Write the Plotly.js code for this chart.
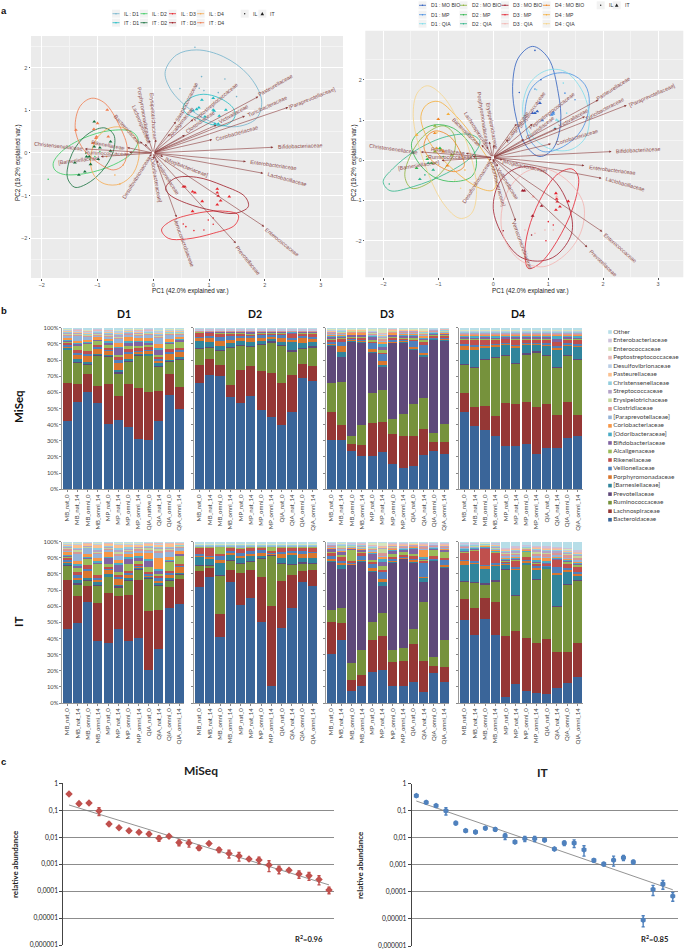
<!DOCTYPE html>
<html>
<head>
<meta charset="utf-8">
<script src="https://cdn.plot.ly/plotly-3.0.1.min.js"></script>
<style>
  html, body { margin: 0; padding: 0; background: #fff; }
  #chart { width: 685px; height: 951px; }
</style>
</head>
<body>
<div id="chart"></div>
<script>
/* ==========================================================================
   Figure with three panels:
     a) two PCA biplots, b) eight stacked bar panels, c) two rank abundance plots
   Values were read off the picture.
   ========================================================================== */

/* ---- a) biplots: ellipse outlines, read as [PC1, PC2] ---- */
const ellLeftIlD1 = [[.215,1.906],[.418,2.297],[.777,2.414],[1.254,2.258],[1.703,1.828],[1.941,1.242],[1.852,.813],[1.493,.617],[1.075,.711],[.597,1.086],[.299,1.516]];
const ellLeftItD1 = [[.538,1.086],[.657,1.281],[.896,1.375],[1.195,1.281],[1.434,1.047],[1.464,.852],[1.314,.656],[1.075,.656],[.777,.813],[.585,.93]];
const ellLeftIlD2 = [[-1.792,-.242],[-1.643,.031],[-1.254,.344],[-.777,.523],[-.388,.5],[-.269,.305],[-.388,-.008],[-.717,-.281],[-1.195,-.477],[-1.613,-.5],[-1.762,-.398]];
const ellLeftItD2 = [[-1.541,-.398],[-1.404,.109],[-1.135,.477],[-.866,.586],[-.705,.422],[-.717,.031],[-.926,-.438],[-1.195,-.727],[-1.404,-.805],[-1.523,-.633]];
const ellLeftIlD3 = [[.149,-1.805],[.299,-1.609],[.717,-1.43],[1.195,-1.359],[1.523,-1.453],[1.464,-1.688],[1.075,-1.883],[.597,-2.016],[.269,-2]];
const ellLeftItD3 = [[.221,-.828],[.388,-.594],[.777,-.57],[1.254,-.766],[1.643,-1.023],[1.703,-1.258],[1.464,-1.414],[1.075,-1.352],[.597,-1.18],[.299,-.984]];
const ellLeftIlD4 = [[-1.123,-.242],[-1.045,.266],[-.836,.555],[-.568,.602],[-.329,.383],[-.251,-.008],[-.358,-.477],[-.597,-.727],[-.866,-.727],[-1.045,-.555]];
const ellLeftItD4 = [[-1.398,.578],[-1.314,1.086],[-1.105,1.281],[-.866,1.164],[-.597,.617],[-.466,.109],[-.538,-.281],[-.717,-.398],[-1.016,-.203],[-1.284,.148]];

const ellRightD1Mo = [[.352,1.834],[.455,2.539],[.716,2.83],[1.002,2.539],[1.184,1.668],[1.226,.921],[1.093,.299],[.85,.091],[.607,.34],[.425,1.004]];
const ellRightD1Mp = [[.577,1.17],[.698,1.793],[1.032,2.124],[1.396,2.149],[1.67,1.876],[1.749,1.419],[1.609,.755],[1.275,.34],[.911,.216],[.668,.506]];
const ellRightD1Qia = [[.534,1.253],[.668,1.917],[.971,2.232],[1.305,2.207],[1.609,1.751],[1.749,1.087],[1.67,.548],[1.396,.257],[1.002,.299],[.668,.672]];
const ellRightD2Mo = [[-1.609,-.407],[-1.518,.091],[-1.245,.631],[-.911,.855],[-.729,.672],[-.698,.257],[-.88,-.199],[-1.184,-.573],[-1.488,-.697]];
const ellRightD2Mp = [[-1.488,.423],[-1.336,.714],[-1.063,.88],[-.729,.797],[-.395,.34],[-.304,-.075],[-.395,-.407],[-.729,-.531],[-1.093,-.407],[-1.396,.008]];
const ellRightD2Qia = [[-2.004,-.531],[-1.821,-.199],[-1.396,.257],[-.85,.589],[-.395,.631],[-.243,.465],[-.395,.091],[-.85,-.324],[-1.457,-.656],[-1.882,-.755]];
const ellRightD3Mo = [[0,-1.195],[.121,-.531],[.425,-.199],[.789,-.199],[1.154,-.573],[1.396,-1.237],[1.427,-1.817],[1.154,-2.357],[.85,-2.506],[.486,-2.398],[.182,-1.9]];
const ellRightD3Mp = [[.577,-2.315],[.638,-1.734],[.85,-.988],[1.154,-.365],[1.427,-.216],[1.548,-.407],[1.457,-1.154],[1.154,-2.025],[.85,-2.564],[.638,-2.689]];
const ellRightD3Qia = [[.14,-1.485],[.243,-.822],[.546,-.324],[.911,-.199],[1.336,-.49],[1.639,-1.071],[1.609,-1.734],[1.336,-2.315],[.911,-2.647],[.486,-2.481],[.213,-1.983]];
const ellRightD4Mo = [[-1.263,.34],[-1.184,.631],[-1.032,.73],[-.789,.589],[-.577,.133],[-.534,-.158],[-.698,-.282],[-.971,-.158],[-1.184,.091]];
const ellRightD4Mp = [[-1.318,1.087],[-1.214,1.378],[-1.002,1.461],[-.668,1.087],[-.243,.34],[.061,-.407],[0,-.739],[-.243,-.697],[-.789,-.158],[-1.184,.506]];
const ellRightD4Qia = [[-1.457,1.087],[-1.384,1.668],[-1.202,1.851],[-.911,1.585],[-.546,.672],[-.304,-.656],[-.395,-1.32],[-.607,-1.444],[-.911,-1.071],[-1.275,.008]];

/* ---- a) biplots: sample points ---- */
const ptLeftItD1 = [[.717,.992],[.777,1.023],[.818,1.063],[.872,1.242],[1.075,1.008],[1.093,.984],[.926,.852],[1.105,.68],[1.165,.68],[1.302,1.008],[1.183,.867],[1.075,1.281]];
const ptLeftIlD1 = [[.747,2.477],[.866,1.789],[.478,1.508],[.777,1.57],[1.284,1.734],[1.165,1.414],[1.493,1.32],[.908,1.461],[.824,1.516]];
const ptLeftItD2 = [[-1.057,.734],[-1.057,.148],[-.956,.125],[-.765,.266],[-.765,.047],[-1.404,-.227],[-1.332,-.516],[-1.225,-.438],[-1.123,-.266],[-.986,-.148],[-1.195,-.086],[-1.147,-.086]];
const ptLeftIlD2 = [[-1.882,-.617],[-1.207,-.008],[-1.135,-.148],[-1.045,-.086],[-.956,.031]];
const ptLeftItD3 = [[.538,-.789],[.567,-.789],[.705,-.906],[.747,-.93],[.878,-1.133],[.705,-1.367],[1.147,-.844],[1.147,-.93],[1.165,-1.008],[1.207,-1.117],[1.147,-1.211],[1.362,-1.023]];
const ptLeftIlD3 = [[.538,-1.664],[.585,-1.727],[.729,-1.82],[.986,-1.57],[1.075,-1.523],[1.075,-1.672],[.908,-1.805]];
const ptLeftItD4 = [[-1.386,.539],[-1.063,.555],[-.998,.695],[-.824,1.008],[-1.016,.383],[-.806,.383],[-1.075,.227],[-1.027,.344]];
const ptLeftIlD4 = [[-.687,-.516],[-.597,-.727],[-.538,-.281],[-.836,-.086]];

const ptRightD1MoIt = [[.716,1.17],[.759,1.17],[.801,1.212],[.85,1.419]];
const ptRightD1MoIl = [[.868,2],[.759,2.73],[.474,1.685]];
const ptRightD1MpIt = [[.893,.988],[1.063,1.129],[1.093,1.154],[1.093,1.187]];
const ptRightD1MpIl = [[.759,1.768],[1.488,1.502],[1.305,1.668]];
const ptRightD1QiaIt = [[1.154,1.004],[1.123,.797],[1.184,.963]];
const ptRightD1QiaIl = [[1.336,1.17],[1.275,1.917],[.789,1.751]];
const ptRightD2MoIt = [[-1.063,.855],[-1.063,.216],[-.759,.133]];
const ptRightD2MoIl = [[-1.214,.091],[-1.063,-.075]];
const ptRightD2MpIt = [[-.971,.299],[-1.202,.025],[-1.123,-.075],[-1.396,-.199]];
const ptRightD2MpIl = [[-.911,.091]];
const ptRightD2QiaIt = [[-1.336,-.473],[-1.469,.191],[-1.093,-.241],[-1.184,-.075]];
const ptRightD2QiaIl = [[-1.894,-.589],[-1.245,-.365]];
const ptRightD3MoIt = [[.534,-.755],[.565,-.755],[.716,-1.386],[.88,-1.137]];
const ptRightD3MoIl = [[.182,-1.751],[.698,-1.859]];
const ptRightD3MpIt = [[1.141,-.822],[1.154,-.963],[1.166,-1.029],[1.366,-1.021],[1.141,-1.237],[1.214,-1.154]];
const ptRightD3MpIl = [[1.002,-1.527],[1.093,-1.61],[.959,-2]];
const ptRightD3QiaIt = [[1.154,-.905],[.729,-.905]];
const ptRightD3QiaIl = [[.577,-1.734],[.759,-1.817],[1.093,-1.734],[.941,-1.734]];
const ptRightD4MoIt = [[-1.002,1.021],[-1.063,.672],[-.911,.216],[-.838,-.133]];
const ptRightD4MoIl = [];
const ptRightD4MpIt = [[-.82,1.145],[-1.396,.631],[-1.032,.299],[-.941,.257]];
const ptRightD4MpIl = [[-.516,-.241]];
const ptRightD4QiaIt = [[-1.032,.689]];
const ptRightD4QiaIl = [[-.595,-.697],[-.698,-.49]];

/* ---- a) biplots: loadings ---- */
const loadingNames = ["Pasteurellaceae","[Paraprevotellaceae]","Turicibacteraceae","Coriobacteriaceae","Bifidobacteriaceae","Enterobacteriaceae","Lactobacillaceae","Enterococcaceae","Prevotellaceae","Verrucomicrobiaceae","[Mogibacteriaceae]","Veillonellaceae","[Odoribacteraceae]","Desulfovibrionaceae","Christensenellaceae","[Barnesiellaceae]","Ruminococcaceae","Rikenellaceae","Bacteroidaceae","Lachnospiraceae","Porphyromonadaceae","Erysipelotrichaceae","Streptococcaceae","Alcaligenaceae","Clostridiaceae","Peptostreptococcaceae","Victivallaceae"];
const tipsLeft = [[1.882,1.32],[2.419,1.07],[1.643,.867],[1.057,.313],[2.151,.133],[1.661,-.203],[1.971,-.477],[1.989,-1.727],[1.481,-2.117],[.418,-1.508],[.179,-.086],[.09,-.242],[.012,-.148],[-.072,-.086],[-1.225,.094],[-.938,-.086],[-.43,.008],[-.466,.125],[-.239,.266],[-.149,.211],[-.078,.305],[.048,.32],[.406,.734],[.299,.445],[.567,.422],[.717,.789],[1.135,.656]];
const labelsLeft = [[2.192,1.586],[2.843,1.297],[2.049,1.094],[1.505,.461],[2.628,.164],[2.163,-.289],[2.389,-.609],[2.306,-2.094],[1.691,-2.516],[.55,-2.117],[.597,-.32],[.269,-.617],[.054,-.633],[-.293,-.57],[-1.703,.164],[-1.332,-.164],[-.836,-.008],[-.818,.18],[-.466,.563],[-.215,.672],[-.173,.93],[.012,.852],[.597,1.195],[.502,.727],[.836,.727],[1.111,1.203],[1.434,.914]];
const anglesLeft = [-30,-22,-25,-16,-2,8,15,39,51,70,21,57,80,-58,6,-7,2,10,48,67,80,86,-63,-52,-36,-40,-30];
const tipsRight = [[1.913,1.502],[2.429,1.369],[1.67,1.087],[1.05,.407],[2.155,.216],[1.658,-.133],[1.973,-.448],[1.985,-1.776],[1.712,-2.166],[.407,-1.51],[.17,.008],[.085,-.158],[.012,-.058],[-.079,-.008],[-1.318,.207],[-.941,-.008],[-.376,.091],[-.498,.174],[-.213,.382],[-.121,.34],[-.073,.465],[.012,.382],[.425,.905],[.273,.523],[.559,.523],[.716,.905],[1.154,.797]];
const labelsRight = [[2.198,1.784],[2.89,1.627],[2.022,1.286],[1.524,.581],[2.641,.249],[2.174,-.232],[2.398,-.598],[2.313,-2.191],[1.998,-2.564],[.528,-2.108],[.583,-.141],[.273,-.581],[.085,-.589],[-.304,-.539],[-1.815,.282],[-1.348,-.116],[-.783,.091],[-.82,.241],[-.486,.714],[-.298,.755],[-.182,1.054],[-.024,.846],[.698,1.253],[.425,.838],[.85,.797],[1.063,1.212],[1.457,1.046]];
const anglesRight = [-33,-24,-28,-17,-3,7,16,41,44,70,13,58,75,-58,8,-9,0,7,45,57,81,80,-55,-55,-38,-38,-30];
const originRight = [-.012,.066];

const legendLeftNames = ["IL : D1","IL : D2","IL : D3","IL : D4","IT : D1","IT : D2","IT : D3","IT : D4"];
const legendRightNames = ["D1 : MO BIO","D2 : MO BIO","D3 : MO BIO","D4 : MO BIO","D1 : MP","D2 : MP","D3 : MP","D4 : MP","D1 : QIA","D2 : QIA","D3 : QIA","D4 : QIA"];

/* ---- b) stacked bars, rows follow familyNames (bottom of the stack first) ---- */
const familyNames = ["Bacteroidaceae","Lachnospiraceae","Ruminococcaceae","Prevotellaceae","[Barnesiellaceae]","Porphyromonadaceae","Veillonellaceae","Rikenellaceae","Alcaligenaceae","Bifidobacteriaceae","[Odoribacteraceae]","Coriobacteriaceae","[Paraprevotellaceae]","Clostridiaceae","Erysipelotrichaceae","Streptococcaceae","Christensenellaceae","Pasteurellaceae","Desulfovibrionaceae","Peptostreptococcaceae","Enterococcaceae","Enterobacteriaceae","Other"];
const sampleLabels = ["MB_nat_0","MB_nat_14","MB_omni_0","MB_omni_14","MP_nat_0","MP_nat_14","MP_omni_0","MP_omni_14","QIA_nat_0","QIA_nat_14","QIA_omni_0","QIA_omni_14"];
const sampleLabelsD1 = ["MB_nat_0","MB_nat_14","MB_omni_0","MB_omni_14","MP_nat_0","MP_nat_14","MP_omni_0","MP_omni_14","QIA_native_0","QIA_nat_14","QIA_omni_0","QIA_omni_14"];
const percentTicks = [0,10,20,30,40,50,60,70,80,90,100];
const percentTickText = ["0%","10%","20%","30%","40%","50%","60%","70%","80%","90%","100%"];

const miseqD1 = [
  [42,54,61,54,41,43,39,31,31,42,58,50],
  [23.5,11,11,11,25,15,27,32,30,19,13,14],
  [20.5,14,6,19,17,14,14,20,23,15,8,17],
  [.5,.5,.4,.4,.5,1,.5,.5,.5,.8,.5,.8],
  [1,1,.8,.6,.6,1,.8,.8,.6,1,.5,.8],
  [.5,3,4.5,3.5,2.5,4.5,3,1,2,1.5,4,3.5],
  [.8,1,.8,.8,.6,2,1.5,1,1,1.5,.8,.8],
  [1.8,2,2,1.2,1.5,1.5,1.5,1,1,1.5,2,1.5],
  [.5,2.8,4.5,2.8,1.2,1.5,2,1.5,1.5,1,3.5,3.5],
  [.8,1.2,.5,.5,2,4.5,2.8,2.8,2,3.5,.5,1.8],
  [.7,.5,.7,.5,.5,.6,.6,.5,.6,.8,.6,.5],
  [1,.8,.8,1,1.5,2.5,2.5,1.5,2,2.5,1.2,1],
  [1,3.5,2.5,1.5,2,2.5,1.5,2,2.2,4,3,1.5],
  [.6,.6,.5,.5,.6,.6,.5,.5,.5,.6,.6,.6],
  [1,.6,.5,.5,.5,.6,.5,.5,.5,.6,.5,.5],
  [.5,.6,.5,.5,.5,1.5,.5,.5,.5,.6,.5,.5],
  [.4,.4,.4,.4,.4,.4,.3,.4,.3,.4,.3,.3],
  [.6,.4,.8,.6,.6,1,.6,.6,.4,.8,.5,.5],
  [.6,.8,.6,.6,.8,.8,.6,.6,.5,1,.5,.6],
  [.3,.4,.6,.3,.4,.4,.3,.5,.3,.4,.3,.3],
  [.3,.3,.2,.3,.3,.4,.3,.3,.3,.3,.3,.3],
  [.2,.3,.2,.2,.2,.3,.3,.2,.2,.3,.2,.2],
  [.4,.5,1,.5,.7,.7,.3,.4,.6,.8,.4,.3]
];
const miseqD2 = [
  [66,71,70,57.5,54,58.5,49,45,39.5,48,69,67.5],
  [11.5,10,7,7.5,20,19,24.5,27,26.5,23,8.5,9],
  [10,7,9,23,15.5,12,16.5,19.5,23,15,9.5,12],
  [.3,.3,.3,.3,.3,.3,.3,.3,.3,.3,.3,.3],
  [4.5,2.8,2.2,2.5,2.5,2.7,1.8,1.5,2,5,3,2.8],
  [2.2,3,3.5,2,2.5,2.5,1.5,1.5,2.5,1.5,3.2,2],
  [.3,.8,2.5,2.5,.8,1.5,2.5,1.3,1.5,1.5,1.3,1.2],
  [2.8,2.5,1.5,1.8,1.5,1,1,1,1.5,2.5,1.8,2.3],
  [.5,.3,1.5,.4,.5,.4,.4,.4,.4,.3,.8,.5],
  [.2,.3,.3,.5,.8,1.2,.6,.6,.4,.5,.3,.6],
  [.1,.1,.1,.2,.1,.2,.1,.1,.2,.5,.1,.1],
  [.1,.1,.1,.2,.1,.1,.1,.1,.2,.2,.1,.1],
  [.1,.1,.1,.1,.1,.1,.1,.1,.1,.2,.1,.1],
  [.1,.1,.1,.1,.1,.1,.1,.1,.1,.1,.1,.1],
  [.2,.2,.2,.2,.2,.2,.2,.2,.2,.2,.2,.2],
  [.1,.1,.1,.1,.1,.1,.1,.1,.1,.1,.1,.1],
  [.1,.1,.1,.1,.1,.1,.1,.1,.1,.1,.1,.1],
  [.1,.1,.1,.1,.1,.1,.1,.1,.1,.1,.1,.1],
  [.1,.1,.1,.1,.1,.1,.1,.1,.1,.1,.1,.1],
  [.1,.1,.1,.1,.1,.1,.1,.1,.1,.1,.1,.1],
  [.3,.3,.3,.3,.3,.3,.3,.3,.3,.3,.3,.3],
  [.2,.2,.2,.2,.2,.2,.2,.2,.2,.2,.2,.2],
  [.6,.6,.6,.6,.6,.6,.6,.6,.6,.6,.6,.6]
];
const miseqD3 = [
  [30.5,31,23.7,20.6,21,23.7,16,13,14.4,21,23.7,21.6],
  [17.5,8.8,4.3,6.8,20.4,19,18,20,18.6,16.3,5.6,7.7],
  [18,26.8,5.4,12.4,19.2,20.8,9.3,13.6,19.6,19,5.7,11.3],
  [22.9,15.9,58.6,51.5,25.2,14.5,47.7,44.7,33.8,26.4,57.6,51.8],
  [1,3,.5,.5,1,1.5,.5,.5,1,1,.5,.4],
  [.5,3.5,.6,.6,1.2,2,.6,.5,.8,.8,.6,.5],
  [1,2.5,.6,.8,3.5,5,1,.8,3.8,5,.6,.8],
  [1.5,2.5,1,1,1.5,1,1,.8,1,2,1,1],
  [.8,.8,.8,.8,.8,1,.8,.8,.8,.8,.6,.6],
  [1,.8,.8,.8,2,3,1,1,1.5,1.5,.8,.8],
  [.6,.5,.4,.4,.5,1.2,.4,.4,.5,.6,.3,.3],
  [.6,.5,.8,.8,.5,1.5,.8,.8,.6,.8,.4,.4],
  [.6,.6,.3,.4,.7,1,.6,.6,.8,1,.3,.3],
  [.5,.5,.4,.4,.5,1,.4,.4,.5,.6,.4,.4],
  [.5,.5,.5,.5,.5,1,.4,.4,.4,.5,.5,.5],
  [.3,.3,.2,.2,.3,.5,.2,.2,.2,.3,.2,.2],
  [.3,.3,.2,.2,.2,.3,.2,.2,.2,.3,.2,.2],
  [.4,.4,.2,.2,.3,1,.3,.5,.3,.4,.2,.2],
  [.3,.3,.2,.2,.3,.5,.2,.2,.2,.3,.2,.2],
  [.2,.2,.1,.1,.2,.4,.2,.2,.2,.2,.1,.1],
  [.5,.4,.4,.3,1,2.5,.2,.2,.4,.8,.1,.2],
  [.2,.2,.2,.2,.2,.3,.2,.2,.2,.2,.1,.1],
  [.3,.3,.3,.4,.3,.3,.2,.3,.2,.3,.2,.3]
];
const miseqD4 = [
  [48,39,36.3,33.4,27.2,26.8,28.2,21.6,25.8,25.8,32,33.4],
  [11.8,12,15,12.6,26.8,25.8,25.6,29.4,27.6,20.2,22.6,13],
  [18.2,24.7,28.5,36.5,30,24.9,29.7,34,30.1,29.3,28.9,34.6],
  [.3,.3,.3,.3,.3,.3,.3,.3,.3,.3,.3,.3],
  [8.7,10.5,7.4,6.8,6.4,9.7,5.4,4.3,6.2,11,6.2,7.6],
  [2.8,2,1,.8,.6,1.2,.6,.5,.6,1,.5,.8],
  [.6,.8,.6,.6,.6,.6,.6,.6,.6,.8,.5,.5],
  [3.5,3.5,3.3,2.8,2.5,3.5,2.3,2.3,2.8,3,2.8,3.2],
  [.4,.6,.4,.4,.4,.4,.4,.4,.4,.4,.4,.4],
  [.6,.6,.8,.6,.5,.6,.6,.6,.6,1.2,.6,.6],
  [1.5,1.8,1.5,1.8,1.5,1.5,1.5,1.5,1.5,2.5,1.5,1.8],
  [.3,.3,.3,.3,.3,.3,.3,.3,.3,.3,.3,.3],
  [.3,.3,.3,.3,.3,.3,.3,.3,.3,.3,.3,.3],
  [.3,.3,.3,.3,.3,.3,.3,.3,.3,.3,.3,.3],
  [.3,.3,.3,.3,.3,.3,.3,.3,.3,.3,.3,.3],
  [.2,.2,.2,.2,.2,.2,.2,.2,.2,.2,.2,.2],
  [.8,.8,.8,.8,.8,.8,.8,.8,.8,.8,.8,.8],
  [.2,.2,.2,.2,.2,.2,.2,.2,.2,.2,.2,.2],
  [.3,.3,.3,.3,.3,.3,.3,.3,.3,.3,.3,.3],
  [.2,.2,.2,.2,.2,.2,.2,.2,.2,.2,.2,.2],
  [.3,.3,.3,.3,.3,.3,.3,.3,.3,.3,.3,.3],
  [.2,.2,.2,.2,.2,.2,.2,.2,.2,.2,.2,.2],
  [1,1,1,1,1,1,1,1,1,1,1,1]
];
const itD1 = [
  [46.3,49.4,62.8,39,37.4,45.5,38.2,40.3,20.2,33.3,59,61.4],
  [30.6,17.1,10.2,23.6,30.8,20.8,28.8,35.7,37,24.1,13,16.1],
  [9.1,7.5,3.4,10.9,10.1,5.4,9.4,6.9,20.3,15.1,4.4,2.9],
  [.4,.6,.4,.8,.6,.8,.5,.4,.5,.6,.4,.4],
  [1.2,1.5,.8,1,.8,.6,.8,.6,.6,.8,.5,.4],
  [.6,2,5,1.5,2.5,4,2.5,.8,.8,1.5,2.8,3.8],
  [.8,1.2,.8,2,1.5,1.2,1,.6,.8,1.5,.8,.8],
  [2,2.2,2.2,1.2,1.2,1,.8,1,1.2,1.8,1.2,1],
  [.5,3,4.5,7,1.2,1.8,4.5,1.5,3.2,1,6,5.5],
  [.8,1,.8,.8,4,4.6,3.6,2.8,4.2,2.2,.8,.8],
  [.6,.5,.6,.6,.6,.8,.6,.6,.6,.6,.5,.4],
  [1,2.2,1.2,2,3,1.8,1.6,1.5,3.8,7,1,1],
  [1.6,5,4,3,1.5,3,1.8,2.2,1.5,3.5,4,2.5],
  [.8,1.2,.4,.8,.7,1,.8,.8,.8,1.2,.8,.5],
  [.8,.8,.5,.8,.8,1.2,.8,.8,1.2,1,.8,.6],
  [.6,.6,.4,1.2,.8,1.5,.6,.6,.8,.8,.5,.4],
  [.4,.4,.3,.4,.4,.5,.4,.4,.3,.4,.3,.3],
  [.8,2.4,.8,2.8,1,2.5,2,1.2,1,1.8,2.2,.6],
  [.4,.4,.3,.3,.3,.5,.3,.3,.3,.5,.3,.3],
  [.3,.3,.3,.3,.2,.3,.3,.3,.3,.2,.2,.2],
  [.3,.3,.2,.2,.2,.3,.3,.2,.2,.2,.2,.2],
  [.2,.2,.2,.2,.2,.2,.2,.2,.2,.2,.2,.2],
  [.4,.3,.2,.3,.2,.3,.3,.3,.2,.2,.2,.2]
];
const itD2 = [
  [71.9,78.7,41.7,74.6,59.3,63.2,49.6,10.3,45.2,57.4,75.6,72.5],
  [10.1,6.3,14.1,7.6,19.4,17.4,27.3,49.8,28.8,20.3,7,9.7],
  [3.5,1,24.2,6.2,6,5.1,11.5,31.2,10.7,6.3,5,4.4],
  [.3,.2,.3,.3,.3,.3,.3,.3,.3,.3,.3,.3],
  [5,4.5,7.5,3.2,3,3,2,.4,3,5.5,3,3.2],
  [1,1,1.8,1.2,1.5,1.5,1,.3,2.5,1.5,3,3],
  [.4,.4,2.5,.8,1.2,1.2,2.2,1,1,1,.8,.5],
  [4.5,5.5,1.6,2.5,3.2,2.5,1.5,.8,2.8,2.3,2.8,3],
  [.3,.3,4.5,.3,.3,.3,.3,2.5,.3,.3,.3,.3],
  [.2,.2,.2,.2,.2,.2,.2,.2,.2,.2,.2,.2],
  [.1,.1,.1,.1,.1,.1,.1,.1,.1,.1,.1,.1],
  [.1,.1,.1,.1,.1,.1,.1,.1,.1,.1,.1,.1],
  [.2,.2,.2,.2,.8,.2,.2,.2,.2,.2,.2,.2],
  [.1,.1,.1,.1,.1,.1,.1,.1,.1,.1,.1,.1],
  [.3,.3,.3,.3,.3,.3,.3,.3,.3,.3,.3,.3],
  [.1,.1,.1,.1,.1,.1,.1,.1,.1,.1,.1,.1],
  [.2,.2,.2,.2,.2,.2,.2,.2,.2,.2,.2,.2],
  [.1,.1,.1,.1,.1,.1,.1,.1,.1,.1,.1,.1],
  [.2,.2,.2,.2,.2,.2,.2,.2,.2,.2,.2,.2],
  [.1,.1,.1,.1,.1,.1,.1,.1,.1,.1,.1,.1],
  [.3,.3,.3,.3,.3,.3,.3,.3,.3,.3,.3,.3],
  [.2,.2,.2,.2,.2,.2,.2,.2,.2,.2,.2,.2],
  [.8,.8,.8,.8,.8,.8,.8,.8,.8,.8,.8,.8]
];
const itD3 = [
  [30.8,39.3,7.4,10.3,19.4,20.9,10.3,10.3,13.2,6.6,18.4,13],
  [19.6,10.3,6.9,7.1,20.1,21.2,14.9,15.3,23.4,19.8,4.1,9.1],
  [7.9,9.3,10.5,15.6,10.9,14.3,7.7,8.5,9.3,36.4,6,16.9],
  [30.3,24.1,60.7,54.8,31,17.4,54.7,54.9,40.9,12.8,59.7,44.5],
  [.8,3,.4,.8,1.5,3,.5,.4,.8,2.5,.3,1.5],
  [.4,1,.5,.5,1,1.2,.4,.4,.5,.6,.3,.5],
  [2.2,1.5,.6,3,3,4.5,1.2,.8,1.5,9,.7,3.5],
  [2,3,.8,.8,1.5,1.5,.8,.6,1,1,1,.8],
  [.5,.6,7,1.6,.8,2,2,1.5,1.5,.5,3.5,4.5],
  [2,2,.6,.8,4,3.5,2.5,2,3.5,1,1.4,1],
  [.3,.4,.3,.3,.5,1,.3,.3,.5,.5,.3,.3],
  [.4,.6,.4,.4,1,1.8,.5,.5,.5,5,.5,.6],
  [.8,1.2,.6,.5,1,1,.5,.5,.4,.8,.5,.5],
  [.4,.5,.3,.3,.6,1,.5,.4,.4,1,.3,.4],
  [.3,1,.3,.3,.6,3,.4,.3,.3,.4,.3,.3],
  [.3,.3,.3,1,.4,.6,.6,.4,.3,.3,.3,.3],
  [.3,.3,.3,.3,.4,.4,.3,.3,.3,.3,.3,.3],
  [.2,.3,.3,.2,.3,.3,.3,.3,.2,.3,.2,.6],
  [.2,.3,.3,.2,.3,.3,.3,.3,.2,.3,.2,.2],
  [.2,.2,.2,.2,.2,.3,.2,.2,.2,.2,.2,.2],
  [.2,.4,.2,.2,1.4,1.8,.4,.4,.2,.2,.2,.2],
  [.2,.2,.2,.4,.2,.2,.4,.3,.2,.3,.2,.3],
  [.5,.4,.6,.6,.4,.4,.4,.4,.3,.6,.5,.6]
];
const itD4 = [
  [51.7,42.1,51.9,42.1,4.1,11.8,7.4,6.6,5.8,9.1,12.8,16.5],
  [13.2,16.6,13.4,20.3,38.7,33.2,33.5,31.8,34.3,22.5,19.4,21.1],
  [11.1,15.9,8.7,12.8,42.7,22.4,46.7,40.3,44.4,28.7,43.2,39.3],
  [.3,.3,.3,.3,.3,.3,.3,.3,.3,.3,.3,.3],
  [9.5,11.5,8.7,9.5,3,16.5,1.2,6.5,1,20,8,3],
  [3,.6,2.5,.6,.4,.5,.4,.8,.4,.5,.6,.5],
  [.5,.6,.5,.6,.5,1,1.6,.8,.4,4,1.5,1.5],
  [5,7,10,6.5,1,4,1,1.8,1,4.5,3,3.2],
  [.5,.5,.4,.5,.5,.5,3.6,1,.5,.5,1.2,1.5],
  [.6,.4,.6,.4,.6,.6,.4,.6,.6,.6,.6,.6],
  [1,.8,.5,.6,.6,.6,.5,.6,.6,.6,.6,.6],
  [.4,.3,.3,.4,.8,.8,.3,2,2,.6,.6,.6],
  [.4,.3,.2,.4,.5,.6,.3,.6,.6,.6,.6,.8],
  [.4,.2,.3,.6,2,1.5,.7,1.8,2,1.5,2,2],
  [.4,.3,.2,.6,.5,.5,.3,.5,.5,.5,.5,.5],
  [.4,.3,.2,.6,.5,1,.3,2,1.6,1,1,1.5],
  [.6,.5,.4,.5,.8,.8,.4,.6,.6,.6,.6,.6],
  [.2,.2,.2,.5,.5,.5,.3,.6,.6,.6,.6,.4],
  [.2,.2,.1,.3,.3,.3,.2,.3,.3,.3,.4,.3],
  [.2,.2,.1,.2,.3,.3,.2,.3,.3,.3,.4,.3],
  [.2,.2,.1,.2,.2,.3,.1,.2,.2,.2,.3,.2],
  [.2,.2,.1,.3,.2,.3,.2,.3,.3,.3,.3,.3],
  [.6,.6,.5,.5,4,3,2,2.5,3,3,4,5.5]
];

/* ---- c) rank abundance ---- */
const abundanceTicks = [1,.1,.01,.001,.0001,.00001,.000001];
const abundanceTickText = ["1","0,1","0,01","0,001","0,0001","0,00001","0,000001"];
const miseqAbundance = [.4,.176,.186,.094,.031,.0226,.0175,.0152,.0132,.0091,.0108,.0063,.0061,.004,.0058,.0034,.0025,.002,.00155,.00143,.00093,.00064,.00059,.00043,.00037,.00027,.00011];
const miseqError = [.03,.02,.015,.03,.004,.002,.002,.001,.002,.002,.001,.0015,.0018,.0007,.0006,.0007,.0008,.0007,.0002,.0004,.0004,.0002,.00005,.00013,.00012,.0001,.00003];
const miseqTrendRank = [1,27];
const miseqTrend = [.157,.00017];
const itAbundance = [.36,.204,.154,.1,.035,.0183,.0164,.0228,.0205,.0116,.007,.0093,.0093,.0083,.00385,.0064,.0064,.0036,.00147,.00107,.0015,.00184,.00127,.0000091,.000124,.000196,.00007];
const itError = [.03,.02,.015,.03,.005,.002,.002,.003,.003,.003,.0006,.002,.002,.001,.0003,.0012,.002,.0015,.0002,.00015,.0006,.0004,.0002,.000004,.00005,.00007,.000025];
const itTrendRank = [1,27];
const itTrend = [.229,.00012];

/* ---- colours ---- */
const familyColors = ["#3A6599","#953735","#76923C","#5F497A","#31859C","#D9762E","#4F81BD","#C0504D","#9BBB59","#8064A2","#4BACC6","#F79646","#95B3D7","#D99694","#C3D69B","#B3A2C7","#93CDDD","#FAC090","#B9CDE5","#E6B9B8","#D7E4BD","#CCC1DA","#B7DEE8"];
const leftColors = { ilD1:"#72B3CB", itD1:"#1FBCC4", ilD2:"#38CB60", itD2:"#15703C", ilD3:"#E8262E", itD3:"#9E1B24", ilD4:"#F5A94F", itD4:"#F07B4D" };
const rightColors = { d1Mo:"#2F5FBF", d1Mp:"#4A90E2", d1Qia:"#7FDDEB", d2Mo:"#8DB33A", d2Mp:"#2DB84D", d2Qia:"#2EB589", d3Mo:"#A01C2C", d3Mp:"#E5202E", d3Qia:"#F4B3B0", d4Mo:"#F08423", d4Mp:"#F5AE3A", d4Qia:"#F6D48A" };
const ARROW = "#8B3A3A";
const SANS = "'Liberation Sans', Arial, sans-serif";
const OFFICE = "Lato, 'Open Sans', sans-serif";

const W = 685, H = 951;
const traces = [], shapes = [], annotations = [];
const layout = {
  width: W, height: H,
  margin: { l: 0, r: 0, t: 0, b: 0, pad: 0 },
  paper_bgcolor: "#fff", plot_bgcolor: "rgba(0,0,0,0)",
  showlegend: false, barmode: "stack", barnorm: "percent", bargap: 0.12,
  font: { family: SANS, color: "#333" },
  shapes, annotations,
};

const px = (x) => x / W;
const py = (y) => 1 - y / H;

// Puts one x/y axis pair on the page, box is given in page pixels
function addAxes(n, box, xOpts, yOpts) {
  const suffix = n === 1 ? "" : String(n);
  layout["xaxis" + suffix] = { domain: [px(box.l), px(box.r)], anchor: "y" + suffix, ...xOpts };
  layout["yaxis" + suffix] = { domain: [py(box.b), py(box.t)], anchor: "x" + suffix, ...yOpts };
  return { xaxis: "x" + suffix, yaxis: "y" + suffix };
}

function note(text, x, y, opts = {}) {
  annotations.push({
    text, x: px(x), y: py(y), xref: "paper", yref: "paper", showarrow: false,
    xanchor: "center", yanchor: "middle", ...opts,
  });
}

/* -------------------------------------------------------------------------
   a) BIPLOTS
   ------------------------------------------------------------------------- */
function ggAxis(range, opts = {}) {
  return {
    range, tickvals: [-2, -1, 0, 1, 2, 3], zeroline: false, showline: false,
    gridcolor: "#fff", gridwidth: 0.7, ticks: "outside", ticklen: 1.5, tickwidth: 0.5, tickcolor: "#555",
    ticklabelstandoff: -1.5,
    tickfont: { family: SANS, size: 5.5, color: "#555" },
    minor: { showgrid: true, tickvals: [-1.5, -.5, .5, 1.5, 2.5], gridcolor: "#F4F4F4", gridwidth: 0.4 },
    ...opts,
  };
}

function addEllipse(points, color, ax) {
  const closed = points.concat([points[0]]);
  traces.push({
    type: "scatter", mode: "lines", ...ax,
    x: closed.map((p) => p[0]), y: closed.map((p) => p[1]),
    line: { color, width: 0.8, shape: "spline", smoothing: 1 }, hoverinfo: "skip",
  });
}

function addPoints(points, color, symbol, size, ax) {
  if (!points.length) return;
  traces.push({
    type: "scatter", mode: "markers", ...ax,
    x: points.map((p) => p[0]), y: points.map((p) => p[1]),
    marker: { color, symbol, size, line: { width: 0 } }, hoverinfo: "skip",
  });
}

function addLoadings(tips, labels, angles, origin, ax) {
  loadingNames.forEach((name, i) => {
    annotations.push({
      text: "", x: tips[i][0], y: tips[i][1], xref: ax.xaxis, yref: ax.yaxis,
      ax: origin[0], ay: origin[1], axref: ax.xaxis, ayref: ax.yaxis,
      showarrow: true, arrowhead: 2, arrowsize: 0.8, arrowwidth: 0.6, arrowcolor: ARROW, standoff: 0,
    });
    annotations.push({
      text: name, x: labels[i][0], y: labels[i][1], xref: ax.xaxis, yref: ax.yaxis,
      showarrow: false, textangle: angles[i], xanchor: "center", yanchor: "middle",
      font: { family: SANS, size: 5.4, color: "#8B4A4A" },
    });
  });
}

function legendKey(x, y, color, name, textX) {
  shapes.push({ type: "rect", xref: "paper", yref: "paper", x0: px(x), x1: px(x + 8), y0: py(y + 4), y1: py(y - 4), fillcolor: "#F2F2F2", line: { width: 0 }, layer: "below" });
  shapes.push({ type: "line", xref: "paper", yref: "paper", x0: px(x + 0.5), x1: px(x + 7.5), y0: py(y), y1: py(y), line: { color, width: 0.8 } });
  shapes.push({ type: "circle", xref: "paper", yref: "paper", x0: px(x + 3.3), x1: px(x + 4.7), y0: py(y + 0.7), y1: py(y - 0.7), fillcolor: color, line: { width: 0 } });
  note(name, textX, y, { xanchor: "left", font: { family: SANS, size: 5.1, color: "#333" } });
}

// Grey key with a black dot (IL) or triangle (IT)
function shapeKey(x, y, kind, name) {
  shapes.push({ type: "rect", xref: "paper", yref: "paper", x0: px(x), x1: px(x + 8), y0: py(y + 4), y1: py(y - 4), fillcolor: "#F2F2F2", line: { width: 0 }, layer: "below" });
  if (kind === "dot") {
    shapes.push({ type: "circle", xref: "paper", yref: "paper", x0: px(x + 3.3), x1: px(x + 4.7), y0: py(y + 0.7), y1: py(y - 0.7), fillcolor: "#222", line: { width: 0 } });
  } else {
    const tri = `M${px(x + 2.2)},${py(y + 1.5)} L${px(x + 5.8)},${py(y + 1.5)} L${px(x + 4)},${py(y - 1.8)} Z`;
    shapes.push({ type: "path", xref: "paper", yref: "paper", path: tri, fillcolor: "#222", line: { width: 0 } });
  }
  note(name, x + 10, y, { xanchor: "left", font: { family: SANS, size: 5.1, color: "#333" } });
}

function initBiplots() {
  const left = addAxes(1, { l: 31, r: 343, t: 36, b: 278 },
    ggAxis([-2.19, 3.40]), ggAxis([-2.93, 2.74], { tickvals: [-2, -1, 0, 1, 2], minor: { showgrid: true, tickvals: [-2.5, -1.5, -.5, .5, 1.5, 2.5], gridcolor: "#F4F4F4", gridwidth: 0.4 } }));
  const right = addAxes(2, { l: 365.3, r: 683.3, t: 30.7, b: 277.3 },
    ggAxis([-2.33, 3.46]), ggAxis([-2.91, 3.22], { tickvals: [-2, -1, 0, 1, 2], minor: { showgrid: true, tickvals: [-2.5, -1.5, -.5, .5, 1.5, 2.5], gridcolor: "#F4F4F4", gridwidth: 0.4 } }));

  // grey panel backgrounds, gridlines stay on top of them
  [[31, 343, 36, 278], [365.3, 683.3, 30.7, 277.3]].forEach(([l, r, t, b]) => {
    shapes.push({ type: "rect", xref: "paper", yref: "paper", x0: px(l), x1: px(r), y0: py(b), y1: py(t), fillcolor: "#EBEBEB", line: { width: 0 }, layer: "below" });
  });

  addEllipse(ellLeftIlD1, leftColors.ilD1, left);
  addEllipse(ellLeftItD1, leftColors.itD1, left);
  addEllipse(ellLeftIlD2, leftColors.ilD2, left);
  addEllipse(ellLeftItD2, leftColors.itD2, left);
  addEllipse(ellLeftIlD3, leftColors.ilD3, left);
  addEllipse(ellLeftItD3, leftColors.itD3, left);
  addEllipse(ellLeftIlD4, leftColors.ilD4, left);
  addEllipse(ellLeftItD4, leftColors.itD4, left);
  addPoints(ptLeftIlD1, leftColors.ilD1, "circle", 1.6, left);
  addPoints(ptLeftItD1, leftColors.itD1, "triangle-up", 3.4, left);
  addPoints(ptLeftIlD2, leftColors.ilD2, "circle", 1.6, left);
  addPoints(ptLeftItD2, leftColors.itD2, "triangle-up", 3.4, left);
  addPoints(ptLeftIlD3, leftColors.ilD3, "circle", 1.6, left);
  addPoints(ptLeftItD3, leftColors.ilD3, "triangle-up", 3.4, left);
  addPoints(ptLeftIlD4, leftColors.ilD4, "circle", 1.6, left);
  addPoints(ptLeftItD4, leftColors.itD4, "triangle-up", 3.4, left);
  addLoadings(tipsLeft, labelsLeft, anglesLeft, [0, 0], left);

  addEllipse(ellRightD1Mo, rightColors.d1Mo, right);
  addEllipse(ellRightD1Mp, rightColors.d1Mp, right);
  addEllipse(ellRightD1Qia, rightColors.d1Qia, right);
  addEllipse(ellRightD2Mo, rightColors.d2Mo, right);
  addEllipse(ellRightD2Mp, rightColors.d2Mp, right);
  addEllipse(ellRightD2Qia, rightColors.d2Qia, right);
  addEllipse(ellRightD3Mo, rightColors.d3Mo, right);
  addEllipse(ellRightD3Mp, rightColors.d3Mp, right);
  addEllipse(ellRightD3Qia, rightColors.d3Qia, right);
  addEllipse(ellRightD4Mo, rightColors.d4Mo, right);
  addEllipse(ellRightD4Mp, rightColors.d4Mp, right);
  addEllipse(ellRightD4Qia, rightColors.d4Qia, right);
  [[ptRightD1MoIl, ptRightD1MoIt, "d1Mo"], [ptRightD1MpIl, ptRightD1MpIt, "d1Mp"], [ptRightD1QiaIl, ptRightD1QiaIt, "d1Qia"],
   [ptRightD2MoIl, ptRightD2MoIt, "d2Mo"], [ptRightD2MpIl, ptRightD2MpIt, "d2Mp"], [ptRightD2QiaIl, ptRightD2QiaIt, "d2Qia"],
   [ptRightD3MoIl, ptRightD3MoIt, "d3Mo"], [ptRightD3MpIl, ptRightD3MpIt, "d3Mp"], [ptRightD3QiaIl, ptRightD3QiaIt, "d3Qia"],
   [ptRightD4MoIl, ptRightD4MoIt, "d4Mo"], [ptRightD4MpIl, ptRightD4MpIt, "d4Mp"], [ptRightD4QiaIl, ptRightD4QiaIt, "d4Qia"]
  ].forEach(([il, it, key]) => {
    addPoints(il, rightColors[key], "circle", 1.6, right);
    addPoints(it, rightColors[key], "triangle-up", 3.4, right);
  });
  addLoadings(tipsRight, labelsRight, anglesRight, originRight, right);

  // axis titles
  const axisFont = { family: SANS, size: 6.3, color: "#222" };
  note("PC1 (42.0% explained var.)", 190.7, 290.5, { font: axisFont });
  note("PC2 (19.2% explained var.)", 18, 163, { font: axisFont, textangle: -90 });
  note("PC1 (42.0% explained var.)", 530.7, 290.5, { font: axisFont });
  note("PC2 (19.2% explained var.)", 354, 163, { font: axisFont, textangle: -90 });

  // legend of the left biplot
  const leftKeys = [leftColors.ilD1, leftColors.ilD2, leftColors.ilD3, leftColors.ilD4, leftColors.itD1, leftColors.itD2, leftColors.itD3, leftColors.itD4];
  const leftColX = [112, 140, 168.5, 196.7];
  legendLeftNames.forEach((name, i) => {
    const col = i % 4;
    legendKey(leftColX[col], i < 4 ? 13.7 : 22.7, leftKeys[i], name, leftColX[col] + 10);
  });
  shapeKey(240.7, 13.7, "dot", "IL");
  shapeKey(258.3, 13.7, "tri", "IT");

  // legend of the right biplot
  const rightKeys = [rightColors.d1Mo, rightColors.d2Mo, rightColors.d3Mo, rightColors.d4Mo, rightColors.d1Mp, rightColors.d2Mp, rightColors.d3Mp, rightColors.d4Mp, rightColors.d1Qia, rightColors.d2Qia, rightColors.d3Qia, rightColors.d4Qia];
  const rightColX = [418.5, 459.5, 501, 542.5];
  const rightRowY = [5.3, 14.7, 23.7];
  legendRightNames.forEach((name, i) => {
    const col = i % 4;
    legendKey(rightColX[col], rightRowY[Math.floor(i / 4)], rightKeys[i], name, rightColX[col] + 10);
  });
  shapeKey(596.7, 5.3, "dot", "IL");
  shapeKey(612.7, 5.3, "tri", "IT");
}

/* -------------------------------------------------------------------------
   b) STACKED BARS
   ------------------------------------------------------------------------- */
function addStackedPanel(n, box, rows, labels, showPercent) {
  const ax = addAxes(n, box, {
    type: "category", categoryorder: "array", categoryarray: labels,
    tickmode: "array", tickvals: labels, ticktext: labels, tickangle: -90,
    ticks: "outside", ticklen: 2, tickwidth: 0.5, tickcolor: "#888",
    showline: true, linecolor: "#999", linewidth: 0.7, showgrid: false,
    tickfont: { family: OFFICE, size: 6, color: "#444" },
  }, {
    range: [0, 100], tickmode: "array", tickvals: percentTicks, ticktext: percentTickText,
    showticklabels: showPercent, ticks: "outside", ticklen: 2, tickwidth: 0.5, tickcolor: "#888",
    showline: true, linecolor: "#999", linewidth: 0.7, showgrid: false, zeroline: false,
    tickfont: { family: OFFICE, size: 5.8, color: "#444" },
  });
  rows.forEach((values, i) => {
    traces.push({
      type: "bar", ...ax, name: familyNames[i], x: labels, y: values,
      marker: { color: familyColors[i], line: { width: 0 } }, hoverinfo: "skip",
    });
  });
}

function initStackedBars() {
  const cols = [[62.3, 184.3], [194.3, 317.7], [326, 449.3], [459.3, 582.7]];
  const top = { t: 327.7, b: 489.3 };
  const bottom = { t: 541.7, b: 703 };
  const topRows = [miseqD1, miseqD2, miseqD3, miseqD4];
  const bottomRows = [itD1, itD2, itD3, itD4];
  cols.forEach(([l, r], i) => {
    addStackedPanel(3 + i, { l, r, ...top }, topRows[i], i === 0 ? sampleLabelsD1 : sampleLabels, i === 0);
    addStackedPanel(7 + i, { l, r, ...bottom }, bottomRows[i], sampleLabels, i === 0);
  });

  const dayFont = { family: OFFICE, size: 10.5, color: "#111" };
  ["D1", "D2", "D3", "D4"].forEach((d, i) => {
    note("<b>" + d + "</b>", [124, 254.7, 387, 518][i], 314, { font: dayFont });
  });
  const rowFont = { family: OFFICE, size: 11.5, color: "#111" };
  note("<b>MiSeq</b>", 18, 407, { font: rowFont, textangle: -90 });
  note("<b>IT</b>", 18, 622, { font: rowFont, textangle: -90 });

  // colour key, one marker and one text per family
  const ax = addAxes(13, { l: 600, r: 685, t: 328, b: 524 },
    { visible: false, range: [-10, 75] }, { visible: false, range: [-.5, 22.47] });
  traces.push({
    type: "scatter", mode: "markers+text", ...ax, cliponaxis: false,
    x: familyNames.map(() => 0), y: familyNames.map((_, i) => i),
    text: familyNames, textposition: "middle right",
    textfont: { family: OFFICE, size: 6.4, color: "#444" },
    marker: { symbol: "square", size: 3.6, color: familyColors, line: { width: 0 } }, hoverinfo: "skip",
  });
}

/* -------------------------------------------------------------------------
   c) RANK ABUNDANCE
   ------------------------------------------------------------------------- */
function addAbundancePanel(n, box, range, values, errors, trendX, trendY, color, symbol) {
  const ax = addAxes(n, box, { visible: false, range }, {
    type: "log", range: [-6, 0], tickmode: "array", tickvals: abundanceTicks, ticktext: abundanceTickText,
    gridcolor: "#8C8C8C", gridwidth: 1.2, showline: true, linecolor: "#444", linewidth: 1,
    ticks: "outside", ticklen: 3, tickwidth: 0.8, tickcolor: "#444", zeroline: false,
    tickfont: { family: OFFICE, size: 6.6, color: "#222" },
  });
  traces.push({
    type: "scatter", mode: "lines", ...ax, x: trendX, y: trendY,
    line: { color: "#777", width: 0.8 }, hoverinfo: "skip",
  });
  traces.push({
    type: "scatter", mode: "markers", ...ax,
    x: values.map((_, i) => i + 1), y: values,
    error_y: { type: "data", array: errors, arrayminus: errors, symmetric: false, color, thickness: 1.4, width: 1.6 },
    marker: { color, symbol, size: 5.8, line: { width: 0 } }, hoverinfo: "skip",
  });
}

function initAbundance() {
  addAbundancePanel(11, { l: 63.3, r: 334, t: 783.3, b: 945 }, [.43, 27.5], miseqAbundance, miseqError, miseqTrendRank, miseqTrend, "#C0504D", "diamond");
  addAbundancePanel(12, { l: 411.7, r: 677.7, t: 783.7, b: 946 }, [.53, 27.5], itAbundance, itError, itTrendRank, itTrend, "#4F81BD", "hexagon");

  const titleFont = { family: OFFICE, size: 12, color: "#222" };
  note("<b>MiSeq</b>", 201, 770, { font: titleFont });
  note("<b>IT</b>", 543, 772, { font: titleFont });
  const axisFont = { family: OFFICE, size: 8, color: "#222" };
  note("<b>relative abundance</b>", 15, 864, { font: axisFont, textangle: -90 });
  note("<b>relative abundance</b>", 360, 865, { font: axisFont, textangle: -90 });
  const r2Font = { family: OFFICE, size: 7.6, color: "#222" };
  note("<b>R<sup>2</sup>=0.96</b>", 309, 939, { font: r2Font });
  note("<b>R<sup>2</sup>=0.85</b>", 654, 939, { font: r2Font });
}

/* ---- panel letters ---- */
function initLetters() {
  const font = { family: SANS, size: 9.5, color: "#111" };
  note("<b>a</b>", 4, 10, { font });
  note("<b>b</b>", 4, 310, { font });
  note("<b>c</b>", 4, 761, { font });
}

initBiplots();
initStackedBars();
initAbundance();
initLetters();
Plotly.newPlot("chart", traces, layout, { displayModeBar: false, responsive: false });
</script>
</body>
</html>
